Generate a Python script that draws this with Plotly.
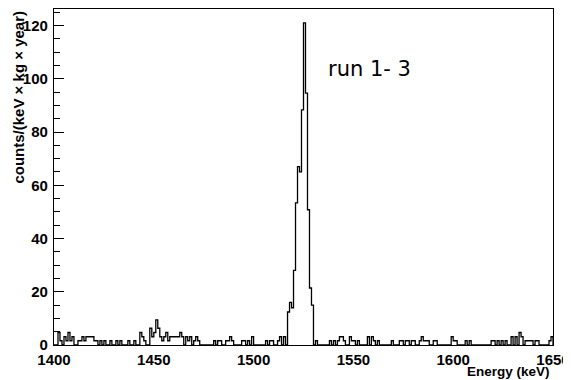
import numpy as np
import plotly.graph_objects as go

# ---- data (counts/(keV x kg x year) per 1-keV bin, bin lower edge in keV) ----
bin_low = 1400
bin_high = 1650
bin_width = 1

peak_energy = [1515, 1517, 1518, 1519, 1520, 1521, 1522, 1523, 1524, 1525,
               1526, 1527, 1528, 1529, 1531]
peak_values = [3.1, 12.4, 16.0, 14.0, 28.0, 53.4, 67.0, 65.0, 88.3, 121.0,
               94.6, 50.8, 21.4, 15.0, 1.6]

bkg_energy = [1402, 1403, 1405, 1406, 1407, 1408, 1409, 1412, 1413, 1414,
              1415, 1416, 1417, 1418, 1419, 1420, 1421, 1423, 1425, 1428,
              1431, 1433, 1437, 1440, 1443, 1444, 1445, 1448, 1449, 1450,
              1451, 1452, 1453, 1454, 1455, 1456, 1457, 1458, 1459, 1460,
              1461, 1462, 1463, 1464, 1466, 1467, 1468, 1470, 1471, 1472,
              1480, 1482, 1483, 1486, 1487, 1488, 1489, 1494, 1495, 1497,
              1499, 1506, 1508, 1509, 1512, 1513,
              1538, 1540, 1542, 1543, 1544, 1545, 1548, 1549, 1550, 1552,
              1557, 1559, 1560, 1562, 1569, 1573, 1574, 1576, 1577, 1579,
              1580, 1583, 1584, 1585, 1586, 1587, 1590, 1591, 1599, 1600,
              1601, 1606, 1608, 1619, 1620, 1622, 1624, 1626, 1629, 1631,
              1633, 1634, 1636, 1637, 1638, 1639, 1641, 1642, 1648, 1649]
bkg_values = [4.7, 1.6, 3.1, 1.6, 4.7, 1.6, 3.1, 1.6, 1.6, 3.1,
              1.6, 3.1, 3.1, 3.1, 3.1, 1.6, 1.6, 1.6, 1.6, 1.6,
              1.6, 1.6, 1.6, 1.6, 4.7, 3.1, 1.6, 6.3, 3.1, 4.7,
              9.4, 6.3, 3.1, 1.6, 3.1, 4.7, 1.6, 3.1, 3.1, 3.1,
              3.1, 3.1, 4.7, 3.1, 3.1, 1.6, 3.1, 1.6, 3.1, 1.6,
              1.6, 1.6, 1.6, 1.6, 1.6, 3.1, 1.6, 1.6, 1.6, 1.6,
              3.1, 1.6, 1.6, 1.6, 1.6, 3.1,
              1.6, 1.6, 1.6, 3.1, 3.1, 1.6, 3.1, 1.6, 1.6, 1.6,
              3.1, 3.1, 1.6, 1.6, 1.6, 1.6, 1.6, 1.6, 1.6, 1.6,
              1.6, 1.6, 3.1, 1.6, 1.6, 1.6, 1.6, 1.6, 3.1, 1.6,
              1.6, 1.6, 1.6, 1.6, 1.6, 1.6, 1.6, 1.6, 3.1, 3.1,
              4.7, 3.1, 1.6, 1.6, 1.6, 1.6, 1.6, 1.6, 1.6, 3.1]

y_ticks = [0, 20, 40, 60, 80, 100, 120]
x_ticks = [1400, 1450, 1500, 1550, 1600, 1650]
label_text = "run 1- 3"
x_title = "Energy (keV)"
y_title = "counts/(keV \u00d7 kg \u00d7 year)"

# ---- build histogram contents ----
edges = np.arange(bin_low, bin_high + bin_width, bin_width)
contents = np.zeros(len(edges) - 1)
for e, v in zip(bkg_energy + peak_energy, bkg_values + peak_values):
    contents[int((e - bin_low) // bin_width)] = v

xs = np.concatenate([[edges[0]], edges[:-1], [edges[-1]], [edges[-1]]])
ys = np.concatenate([[0], contents, [contents[-1]], [0]])

fig = go.Figure()
fig.add_trace(go.Scatter(x=xs, y=ys, mode="lines", line_shape="hv",
                         line=dict(color="black", width=1.3),
                         hoverinfo="skip", showlegend=False, cliponaxis=True))

tickfont = dict(family="Liberation Sans, Arial, sans-serif", size=15,
                color="black", weight="bold")

# page body has an 8px margin, so the figure is sized/offset to compensate
fig.update_layout(
    width=563, height=372,
    margin=dict(l=46, r=18, t=1, b=35),
    paper_bgcolor="white", plot_bgcolor="white",
    showlegend=False,
    xaxis=dict(range=[bin_low, bin_high], tickvals=x_ticks,
               ticktext=[str(t) for t in x_ticks], automargin=False,
               showgrid=False, zeroline=False, showline=True,
               linecolor="black", linewidth=1.2, mirror=True,
               ticks="", tickfont=tickfont, ticklabelstandoff=1),
    yaxis=dict(range=[0, 126.2], tickvals=y_ticks,
               ticktext=[str(t) for t in y_ticks], automargin=False,
               showgrid=False, zeroline=False, showline=True,
               linecolor="black", linewidth=1.2, mirror=True,
               ticks="inside", ticklen=10, tickcolor="black", tickwidth=1,
               minor=dict(ticks="inside", ticklen=6, dtick=5,
                          tickcolor="black", tickwidth=1),
               tickfont=tickfont, ticklabelstandoff=2),
)

fig.add_annotation(text=label_text, xref="paper", yref="paper",
                   x=0.633, y=0.822, xanchor="center", yanchor="middle",
                   showarrow=False,
                   font=dict(family="DejaVu Sans, sans-serif", size=21,
                             color="black"))
fig.add_annotation(text=x_title, xref="paper", yref="paper",
                   x=0.998, y=-0.106, xanchor="right", yanchor="bottom",
                   showarrow=False,
                   font=dict(family="Liberation Sans, Arial, sans-serif",
                             size=13.5, color="black", weight="bold"))
fig.add_annotation(text=y_title, xref="paper", yref="paper",
                   x=-0.072, y=1.0, xanchor="center", yanchor="top",
                   textangle=-90, showarrow=False,
                   font=dict(family="Liberation Sans, Arial, sans-serif",
                             size=15, color="black", weight="bold"))

fig.write_html("out.html")
